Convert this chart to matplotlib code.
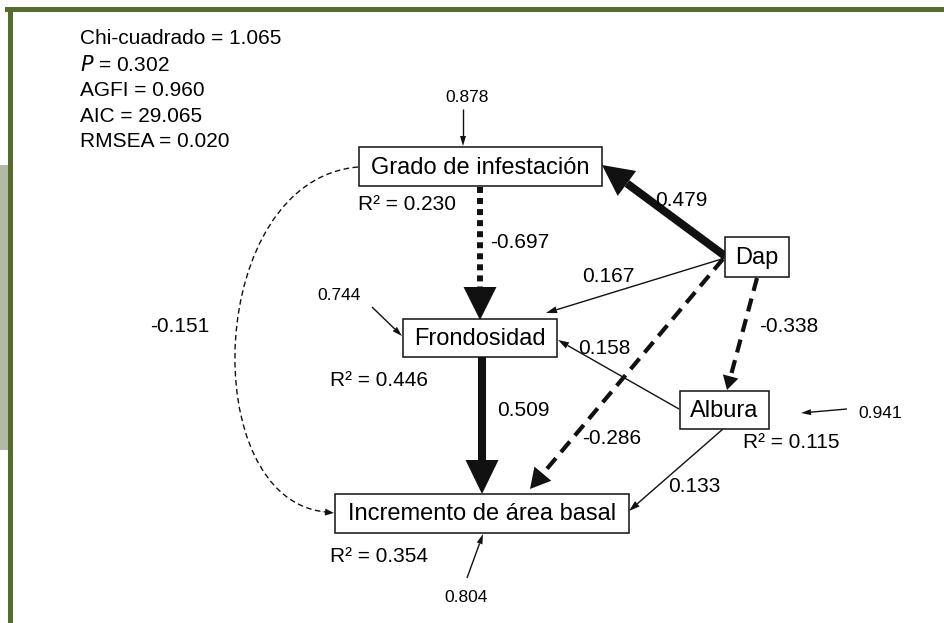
import numpy as np
import matplotlib.pyplot as plt
from matplotlib.patches import Rectangle, Polygon, PathPatch
from matplotlib.path import Path

plt.rcParams['font.family'] = ['Liberation Sans', 'DejaVu Sans']

# model variables
nodes = ['Grado de infestación', 'Dap', 'Frondosidad', 'Albura',
         'Incremento de área basal']
# path coefficients (from, to, value)
paths = [('Dap', 'Grado de infestación', 0.479),
         ('Grado de infestación', 'Frondosidad', -0.697),
         ('Dap', 'Frondosidad', 0.167),
         ('Dap', 'Albura', -0.338),
         ('Albura', 'Frondosidad', 0.158),
         ('Dap', 'Incremento de área basal', -0.286),
         ('Frondosidad', 'Incremento de área basal', 0.509),
         ('Albura', 'Incremento de área basal', 0.133)]
correlation = -0.151
r2 = {'Grado de infestación': 0.230, 'Frondosidad': 0.446,
      'Albura': 0.115, 'Incremento de área basal': 0.354}
errors = {'Grado de infestación': 0.878, 'Frondosidad': 0.744,
          'Albura': 0.941, 'Incremento de área basal': 0.804}
fit_names = ['Chi-cuadrado', '$P$', 'AGFI', 'AIC', 'RMSEA']
fit_values = [1.065, 0.302, 0.960, 29.065, 0.020]

# layout in pixel units (x right, y down)
boxes = {'Grado de infestación': (359, 147, 602, 186),
         'Dap': (725, 237, 789, 277),
         'Frondosidad': (403, 319, 557, 357),
         'Albura': (680, 391, 769, 429),
         'Incremento de área basal': (335, 494, 629, 533)}
path_geom = {
    ('Dap', 'Grado de infestación'): dict(p0=(725, 256), p1=(602, 165), lw=5.8, hl=31, hw=31, ls='solid', lab=(655, 200)),
    ('Grado de infestación', 'Frondosidad'): dict(p0=(480, 187), p1=(480, 320), lw=4.3, hl=33, hw=33, ls=(0, (1.0, 0.85)), lab=(490, 242)),
    ('Dap', 'Frondosidad'): dict(p0=(725, 258), p1=(546, 313), lw=1.0, hl=11, hw=7, ls='solid', lab=(582, 276)),
    ('Dap', 'Albura'): dict(p0=(757, 278), p1=(727, 390), lw=3.0, hl=14, hw=16, ls=(0, (3.2, 1.9)), lab=(759, 326)),
    ('Albura', 'Frondosidad'): dict(p0=(679, 409), p1=(558, 340), lw=1.0, hl=11, hw=7, ls='solid', lab=(578, 348)),
    ('Dap', 'Incremento de área basal'): dict(p0=(723, 259), p1=(530, 489), lw=3.0, hl=20, hw=22, ls=(0, (3.3, 1.9)), lab=(582, 439)),
    ('Frondosidad', 'Incremento de área basal'): dict(p0=(482, 357), p1=(482, 494), lw=5.8, hl=34, hw=33, ls='solid', lab=(497, 411)),
    ('Albura', 'Incremento de área basal'): dict(p0=(723, 429), p1=(629, 511), lw=1.0, hl=11, hw=7, ls='solid', lab=(668, 487)),
}
r2_pos = {'Grado de infestación': (358, 205), 'Frondosidad': (330, 381),
          'Albura': (743, 443), 'Incremento de área basal': (330, 556)}
err_geom = {'Grado de infestación': ((463, 109), (463, 146), (467, 98)),
            'Frondosidad': ((372, 307), (402, 336), (339, 295)),
            'Albura': ((847, 409), (801, 413), (880, 413)),
            'Incremento de área basal': ((467, 578), (483, 534), (466, 597))}


def arrow(ax, p0, p1, lw, hl, hw, ls='solid'):
    p0 = np.array(p0, float)
    p1 = np.array(p1, float)
    d = p1 - p0
    u = d / np.hypot(*d)
    n = np.array([-u[1], u[0]])
    base = p1 - u * hl
    ax.plot([p0[0], base[0]], [p0[1], base[1]], color='#111111', lw=lw,
            linestyle=ls, solid_capstyle='butt', dash_capstyle='butt', zorder=2)
    ax.add_patch(Polygon([p1, base + n * hw / 2, base - n * hw / 2],
                         closed=True, color='#111111', lw=0, zorder=2))


fig = plt.figure(figsize=(9.44, 6.23), dpi=100)
ax = fig.add_axes([0, 0, 1, 1])
ax.set_xlim(0, 944)
ax.set_ylim(623, 0)
ax.axis('off')

# frame
ax.add_patch(Rectangle((0, 165), 8, 285, color='#b1baa2', lw=0))
ax.add_patch(Rectangle((5, 7), 944, 5, color='#566b2e', lw=0))
ax.add_patch(Rectangle((8, 7), 5, 620, color='#566b2e', lw=0))

# fit statistics
for i, (nm, v) in enumerate(zip(fit_names, fit_values)):
    txt = f'{nm} = {v:.3f}'
    ax.text(80, 39 + i * 25.7, txt, fontsize=15, va='center', ha='left')

# boxes
for nm in nodes:
    x0, y0, x1, y1 = boxes[nm]
    ax.add_patch(Rectangle((x0, y0), x1 - x0, y1 - y0, facecolor='white',
                           edgecolor='#111111', lw=1.1, zorder=3))
    ax.text((x0 + x1) / 2, (y0 + y1) / 2 + 1, nm, fontsize=17, ha='center',
            va='center', zorder=4)

# paths
for src, dst, val in paths:
    g = path_geom[(src, dst)]
    arrow(ax, g['p0'], g['p1'], g['lw'], g['hl'], g['hw'], g['ls'])
    ax.text(g['lab'][0], g['lab'][1], f'{val:.3f}', fontsize=15,
            va='center', ha='left', zorder=5)

# correlation between infestation and basal area increment
verts = [(358, 167), (205, 180), (195, 500), (326, 512)]
curve = Path(verts, [Path.MOVETO, Path.CURVE4, Path.CURVE4, Path.CURVE4])
ax.add_patch(PathPatch(curve, fill=False, lw=1.0, linestyle=(0, (4, 2.5)),
                       edgecolor='#111111', zorder=2))
arrow(ax, (320, 511.5), (334, 513), 0.1, 9, 7)
ax.text(150, 326, f'{correlation:.3f}', fontsize=15, va='center', ha='left')

# R2 and error terms
for nm, v in r2.items():
    ax.text(r2_pos[nm][0], r2_pos[nm][1], f'R² = {v:.3f}', fontsize=15,
            va='center', ha='left')
for nm, v in errors.items():
    p0, p1, lab = err_geom[nm]
    arrow(ax, p0, p1, 1.0, 10, 6)
    ax.text(lab[0], lab[1], f'{v:.3f}', fontsize=12.5, va='center',
            ha='center')

fig.savefig('out.png', dpi=100)
